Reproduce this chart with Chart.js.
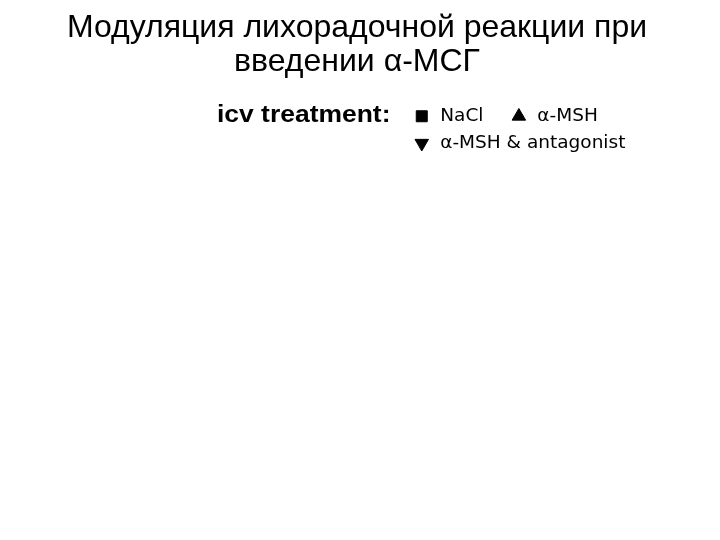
<!DOCTYPE html>
<html>
<head>
<meta charset="utf-8">
<script src="https://cdn.jsdelivr.net/npm/chart.js@4/dist/chart.umd.min.js"></script>
<style>
  body { margin: 0; background: #fff; }
  #wrap { position: relative; width: 720px; height: 540px; }
  #title {
    position: absolute; left: 0; top: 9px; width: 714px;
    text-align: center; font-family: "Liberation Sans", Arial, sans-serif;
    font-size: 32px; line-height: 34px; color: #000;
  }
  #chart { position: absolute; left: 0; top: 0; }
</style>
</head>
<body>
<div id="wrap">
  <canvas id="chart" width="720" height="540"></canvas>
  <div id="title">Модуляция лихорадочной реакции при<br>введении α-МСГ</div>
</div>
<script>
// nothing is plotted in the picture, only the legend is visible
const timeLabels = [];
const naclValues = [];
const mshValues = [];
const mshAntagonistValues = [];

const seriesNames = ['NaCl', 'α-MSH', 'α-MSH & antagonist'];
const legendHeading = 'icv treatment:';

const ctx = document.getElementById('chart');

// draws the bold "icv treatment:" heading left of the first legend row
const headingPlugin = {
    id: 'heading',
    afterDraw(chart) {
        const boxes = chart.legend.legendHitBoxes;
        if (!boxes || !boxes.length) return;
        const c = chart.ctx;
        const y = boxes[0].top + boxes[0].height / 2 + 6;
        c.save();
        c.translate(217, y);
        c.scale(1.15, 1);
        c.font = 'bold 23px "Liberation Sans", Arial, sans-serif';
        c.fillStyle = '#000';
        c.textBaseline = 'alphabetic';
        c.fillText(legendHeading, 0, 0);
        c.restore();
    }
};

new Chart(ctx, {
    type: 'line',
    data: {
        labels: timeLabels,
        datasets: [{
            label: seriesNames[0],
            data: naclValues,
            pointStyle: 'rect',
            backgroundColor: '#000',
            borderColor: '#000',
            pointBackgroundColor: '#000',
            pointBorderColor: '#000'
        }, {
            label: seriesNames[1],
            data: mshValues,
            pointStyle: 'triangle',
            backgroundColor: '#000',
            borderColor: '#000',
            pointBackgroundColor: '#000',
            pointBorderColor: '#000'
        }, {
            label: seriesNames[2],
            data: mshAntagonistValues,
            pointStyle: 'triangle',
            pointRotation: 180,
            backgroundColor: '#000',
            borderColor: '#000',
            pointBackgroundColor: '#000',
            pointBorderColor: '#000'
        }]
    },
    options: {
        responsive: false,
        animation: false,
        layout: { padding: { top: 98.5, left: 404, right: 16, bottom: 10 } },
        scales: {
            x: { display: false },
            y: { display: false }
        },
        plugins: {
            title: { display: false },
            tooltip: { enabled: false },
            legend: {
                display: true,
                position: 'top',
                align: 'start',
                onClick: null,
                labels: {
                    usePointStyle: true,
                    boxWidth: 18.5,
                    boxHeight: 11,
                    padding: 8.5,
                    color: '#000',
                    font: { family: '"DejaVu Sans", sans-serif', size: 18.5 },
                    generateLabels(chart) {
                        const items = Chart.defaults.plugins.legend.labels.generateLabels(chart);
                        // wider gap after NaCl, as in the original figure
                        items[0].text = items[0].text + '   ';
                        return items;
                    }
                }
            }
        }
    },
    plugins: [headingPlugin]
});
</script>
</body>
</html>
